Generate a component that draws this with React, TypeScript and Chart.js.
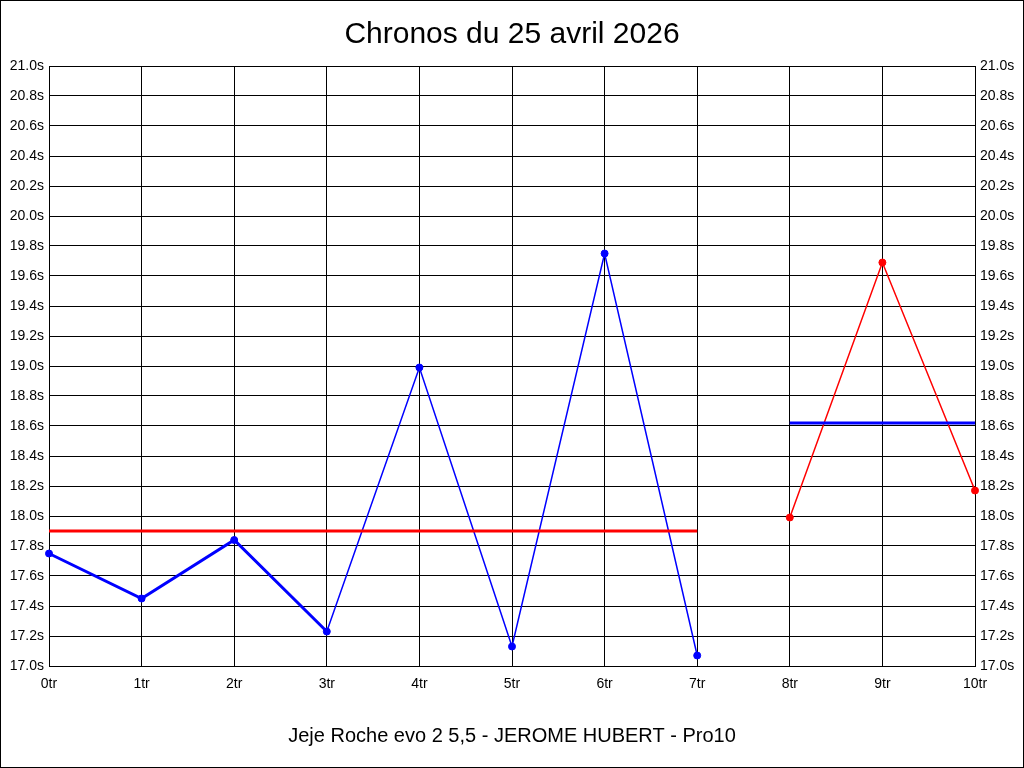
import React, { useEffect, useRef } from "react";
import { Chart, registerables } from "chart.js";

Chart.register(...registerables);

const titleText = "Chronos du 25 avril 2026";
const subtitleText = "Jeje Roche evo 2 5,5 - JEROME HUBERT - Pro10";
const laps1 = [0, 1, 2, 3, 4, 5, 6, 7];
const times1 = [17.75, 17.45, 17.84, 17.23, 18.99, 17.13, 19.75, 17.07];
const laps2 = [8, 9, 10];
const times2 = [17.99, 19.69, 18.17];
const avg1 = 17.9;
const avg2 = 18.62;

export default function App() {
  const ref = useRef<HTMLCanvasElement | null>(null);
  useEffect(() => {
    document.body.style.margin = "0";
    const ctx = ref.current!;
    Chart.defaults.font.family = "'Liberation Sans', Arial, sans-serif";
    Chart.defaults.color = "#000";
    const pts = (xs: number[], ys: number[]) => xs.map((x, i) => ({ x, y: ys[i] }));
    const chart = new Chart(ctx, {
      type: "line",
      data: {
        datasets: [
          {
            data: [
              { x: laps1[0], y: avg1 },
              { x: laps1[laps1.length - 1], y: avg1 },
            ],
            borderColor: "#ff0000",
            borderWidth: 3,
            pointRadius: 0,
            clip: false,
            yAxisID: "y",
          },
          {
            data: [
              { x: laps2[0], y: avg2 },
              { x: laps2[laps2.length - 1], y: avg2 },
            ],
            borderColor: "#0000ff",
            borderWidth: 3,
            pointRadius: 0,
            clip: false,
            yAxisID: "y",
          },
          {
            data: pts(laps1, times1),
            borderColor: "#0000ff",
            backgroundColor: "#0000ff",
            borderWidth: 1.5,
            pointRadius: 3.5,
            pointBorderWidth: 1,
            clip: false,
            segment: {
              borderWidth: (c: any) => (c.p0DataIndex < 3 ? 3 : 1.5),
            },
            yAxisID: "y",
          } as any,
          {
            data: pts(laps2, times2),
            borderColor: "#ff0000",
            backgroundColor: "#ff0000",
            borderWidth: 1.5,
            pointRadius: 3.5,
            pointBorderWidth: 1,
            clip: false,
            yAxisID: "y",
          },
        ],
      },
      options: {
        animation: false,
        responsive: false,
        layout: { padding: 0 },
        plugins: {
          legend: { display: false },
          tooltip: { enabled: false },
          title: {
            display: true,
            text: titleText,
            color: "#000",
            font: { size: 30, weight: "normal" },
            padding: { top: 17, bottom: 13 },
          },
        },
        scales: {
          x: {
            type: "linear",
            min: 0,
            max: 10,
            ticks: {
              stepSize: 1,
              autoSkip: false,
              maxRotation: 0,
              padding: 10,
              font: { size: 14 },
              callback: (v: any) => `${v}tr`,
            },
            grid: { color: "#000", drawTicks: false },
            border: { color: "#000" },
            title: {
              display: true,
              text: subtitleText,
              font: { size: 20 },
              padding: { top: 0, bottom: 20 },
            },
            afterFit: (s: any) => {
              s.height = 102;
            },
          },
          y: {
            position: "left",
            min: 17,
            max: 21,
            ticks: {
              stepSize: 0.2,
              autoSkip: false,
              padding: 5,
              font: { size: 14 },
              callback: (v: any) => `${Number(v).toFixed(1)}s`,
            },
            grid: { color: "#000", drawTicks: false },
            border: { color: "#000" },
            afterFit: (s: any) => {
              s.width = 49;
            },
          },
          y2: {
            position: "right",
            min: 17,
            max: 21,
            ticks: {
              stepSize: 0.2,
              autoSkip: false,
              padding: 5,
              font: { size: 14 },
              callback: (v: any) => `${Number(v).toFixed(1)}s`,
            },
            grid: { display: false, drawTicks: false },
            border: { color: "#000" },
            afterFit: (s: any) => {
              s.width = 49;
            },
          },
        },
      },
    } as any);
    return () => chart.destroy();
  }, []);
  return (
    <div style={{ position: "fixed", left: 0, top: 0, width: 1024, height: 768, background: "#fff" }}>
      <canvas ref={ref} width={1024} height={768} style={{ display: "block" }} />
      <div
        style={{
          position: "absolute",
          inset: 0,
          border: "1px solid #000",
          boxSizing: "border-box",
          pointerEvents: "none",
        }}
      />
    </div>
  );
}
